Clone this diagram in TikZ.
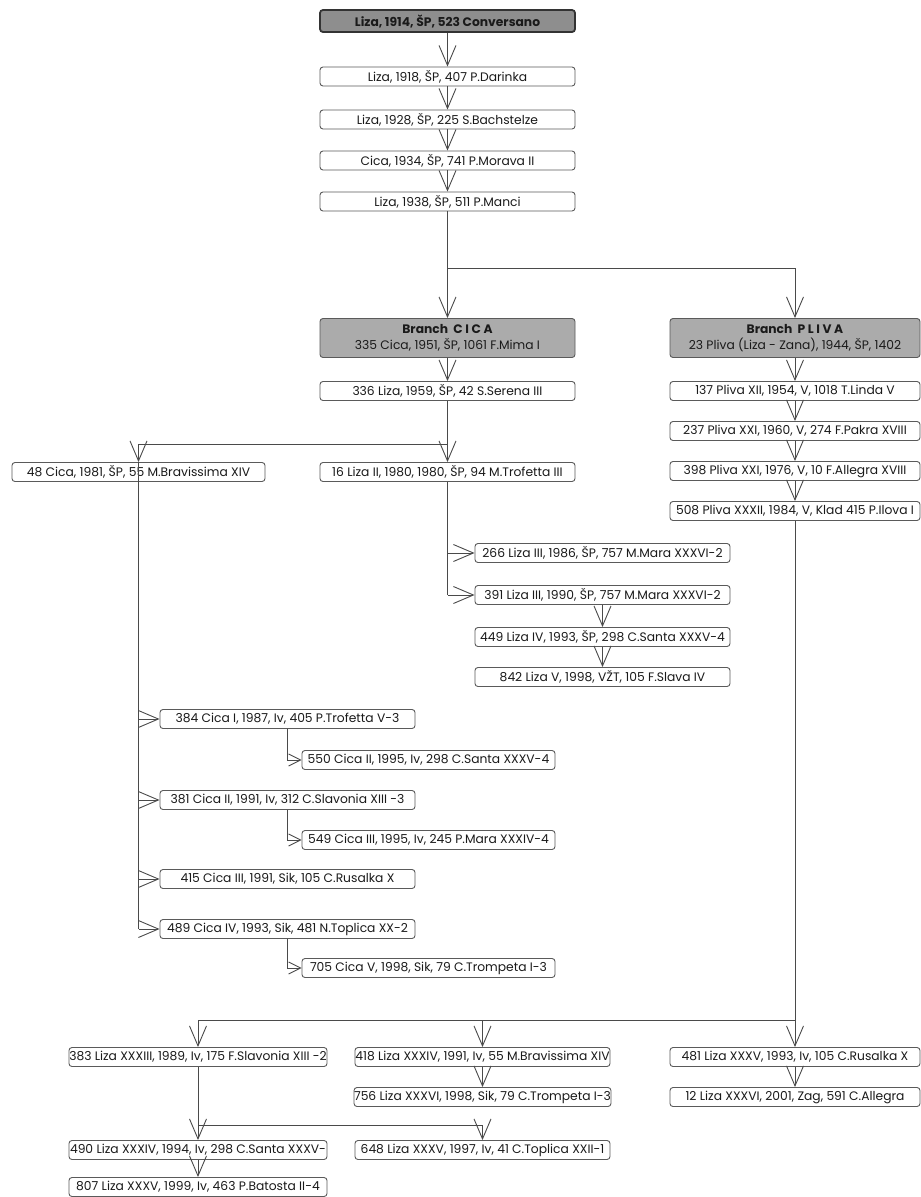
\documentclass[tikz,border=0pt]{standalone}
\usepackage{fontspec}
\setmainfont{Poppins}
\usetikzlibrary{arrows.meta}
\definecolor{ln}{HTML}{4A4A4A}
\definecolor{bd}{HTML}{5A5A5A}
\definecolor{topfill}{HTML}{8E8E8E}
\definecolor{brfill}{HTML}{ABABAB}
\definecolor{txt}{HTML}{1A1A1A}
\tikzset{
  box/.style={draw=bd, line width=0.9pt, rounded corners=3pt, fill=white,
    minimum height=19pt, inner sep=0pt, text=txt,
    font=\fontsize{12.3}{13}\selectfont},
  wmain/.style={minimum width=255pt},
  wside/.style={minimum width=253pt},
  wbot/.style={minimum width=258pt},
  topbox/.style={box, wmain, fill=topfill, line width=1.8pt, draw=black!80,
    minimum height=22pt, font=\fontsize{12.3}{13}\selectfont\bfseries},
  brbox/.style={box, fill=brfill, minimum height=39pt, align=center,
    font=\fontsize{12.3}{16}\selectfont},
  conn/.style={draw=ln, line width=0.9pt},
  arr/.style={conn, -{Straight Barb[length=20pt,width=17pt]}},
  sarr/.style={conn, -{Straight Barb[length=12pt,width=12pt]}},
}
\begin{document}
\begin{tikzpicture}[x=1pt,y=-1pt]
\useasboundingbox[fill=white] (0,0) rectangle (921,1197);
% main chain
\node[topbox] (n1) at (447.5,21) {Liza, 1914, ŠP, 523 Conversano};
\node[box,wmain] (n2) at (447.5,76.5) {Liza, 1918, ŠP, 407 P.Darinka};
\node[box,wmain] (n3) at (447.5,119.5) {Liza, 1928, ŠP, 225 S.Bachstelze};
\node[box,wmain] (n4) at (447.5,160.5) {Cica, 1934, ŠP, 741 P.Morava II};
\node[box,wmain] (n5) at (447.5,201.5) {Liza, 1938, ŠP, 511 P.Manci};
% branches
\node[brbox,wmain] (cica) at (447.5,338) {\textbf{Branch\ \ C I C A}\\335 Cica, 1951, ŠP, 1061 F.Mima I};
\node[brbox,minimum width=250pt] (pliva) at (795,338) {\textbf{Branch\ \ P L I V A}\\23 Pliva (Liza - Zana), 1944, ŠP, 1402};
% cica chain
\node[box,wmain] (c336) at (447.5,391) {336 Liza, 1959, ŠP, 42 S.Serena III};
\node[box,wside] (c48) at (138.5,472) {48 Cica, 1981, ŠP, 55 M.Bravissima XIV};
\node[box,wmain] (l16) at (447.5,472) {16 Liza II, 1980, 1980, ŠP, 94 M.Trofetta III};
\node[box,wmain] (l266) at (602.5,553) {266 Liza III, 1986, ŠP, 757 M.Mara XXXVI-2};
\node[box,wmain] (l391) at (602.5,595) {391 Liza III, 1990, ŠP, 757 M.Mara XXXVI-2};
\node[box,wmain] (l449) at (602.5,637) {449 Liza IV, 1993, ŠP, 298 C.Santa XXXV-4};
\node[box,wmain] (l842) at (602.5,677) {842 Liza V, 1998, VŽT, 105 F.Slava IV};
\node[box,wmain] (c384) at (287.5,719) {384 Cica I, 1987, Iv, 405 P.Trofetta V-3};
\node[box,wside] (c550) at (428.5,760) {550 Cica II, 1995, Iv, 298 C.Santa XXXV-4};
\node[box,wmain] (c381) at (287.5,800) {381 Cica II, 1991, Iv, 312 C.Slavonia XIII -3};
\node[box,wside] (c549) at (428.5,840) {549 Cica III, 1995, Iv, 245 P.Mara XXXIV-4};
\node[box,wmain] (c415) at (287.5,879) {415 Cica III, 1991, Sik, 105 C.Rusalka X};
\node[box,wmain] (c489) at (287.5,929) {489 Cica IV, 1993, Sik, 481 N.Toplica XX-2};
\node[box,wside] (c705) at (428.5,968) {705 Cica V, 1998, Sik, 79 C.Trompeta I-3};
% pliva chain
\node[box,minimum width=250pt] (p137) at (795,391) {137 Pliva XII, 1954, V, 1018 T.Linda V};
\node[box,minimum width=250pt] (p237) at (795,431) {237 Pliva XXI, 1960, V, 274 F.Pakra XVIII};
\node[box,minimum width=250pt] (p398) at (795,471) {398 Pliva XXI, 1976, V, 10 F.Allegra XVIII};
\node[box,minimum width=250pt] (p508) at (795,511) {508 Pliva XXXII, 1984, V, Klad 415 P.Ilova I};
% bottom
\node[box,wbot] (b383) at (198,1057) {383 Liza XXXIII, 1989, Iv, 175 F.Slavonia XIII -2};
\node[box,wmain] (b418) at (482.5,1057) {418 Liza XXXIV, 1991, Iv, 55 M.Bravissima XIV};
\node[box,minimum width=250pt] (b481) at (795,1057) {481 Liza XXXV, 1993, Iv, 105 C.Rusalka X};
\node[box,wmain] (b756) at (482.5,1097) {756 Liza XXXVI, 1998, Sik, 79 C.Trompeta I-3};
\node[box,minimum width=250pt] (b12) at (795,1097) {12 Liza XXXVI, 2001, Zag, 591 C.Allegra};
\node[box,wbot] (b490) at (198,1150) {490 Liza XXXIV, 1994, Iv, 298 C.Santa XXXV-};
\node[box,wmain] (b648) at (482.5,1150) {648 Liza XXXV, 1997, Iv, 41 C.Toplica XXII-1};
\node[box,wbot] (b807) at (198,1187) {807 Liza XXXV, 1999, Iv, 463 P.Batosta II-4};
% junctions
\coordinate (j1) at (447.5,268);
\coordinate (j2) at (447.5,444);
\coordinate (j4) at (795,1020);
\coordinate (j5) at (198,1125);
% connectors main
\draw[arr] (n1) -- (n2);
\draw[arr] (n2) -- (n3);
\draw[arr] (n3) -- (n4);
\draw[arr] (n4) -- (n5);
\draw[arr] (n5) -- (cica);
\draw[arr] (j1) -| (pliva.north);
\draw[arr] (cica) -- (c336);
\draw[arr] (c336) -- (l16);
\draw[arr] (j2) -| (c48.north);
\draw[conn] (c48.north) -- (c48.north |- c489.west);
\draw[arr] (c48.north |- c384.west) -- (c384.west);
\draw[arr] (c48.north |- c381.west) -- (c381.west);
\draw[arr] (c48.north |- c415.west) -- (c415.west);
\draw[arr] (c48.north |- c489.west) -- (c489.west);
\draw[sarr] (c384.south) |- (c550.west);
\draw[sarr] (c381.south) |- (c549.west);
\draw[sarr] (c489.south) |- (c705.west);
\draw[conn] (l16.south) -- (l16.south |- l391.west);
\draw[arr] (l16.south |- l266.west) -- (l266.west);
\draw[arr] (l16.south |- l391.west) -- (l391.west);
\draw[arr] (l391) -- (l449);
\draw[arr] (l449) -- (l842);
\draw[arr] (pliva) -- (p137);
\draw[arr] (p137) -- (p237);
\draw[arr] (p237) -- (p398);
\draw[arr] (p398) -- (p508);
\draw[arr] (p508) -- (b481);
\draw[conn] (j4) -- (j4 -| b383);
\draw[arr] (j4 -| b383) -- (b383);
\draw[arr] (j4 -| b418) -- (b418);
\draw[arr] (b481) -- (b12);
\draw[arr] (b418) -- (b756);
\draw[arr] (b383) -- (b490);
\draw[arr] (j5) -| (b648.north);
\draw[arr] (b490) -- (b807);
\end{tikzpicture}
\end{document}
